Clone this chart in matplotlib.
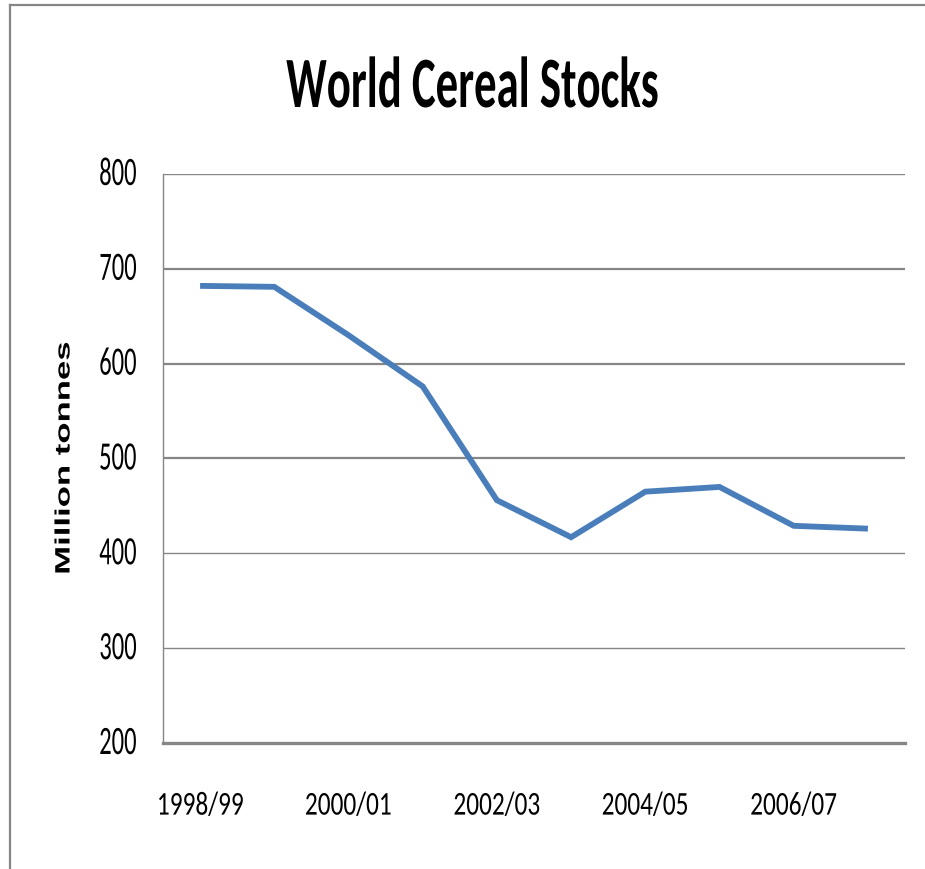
import matplotlib
matplotlib.use("Agg")
import matplotlib.pyplot as plt
from matplotlib.lines import Line2D
from matplotlib.patheffects import AbstractPathEffect
from matplotlib.transforms import Affine2D

# World cereal stocks, million tonnes
seasons = ["1998/99", "1999/00", "2000/01", "2001/02", "2002/03",
           "2003/04", "2004/05", "2005/06", "2006/07", "2007/08"]
stocks = [682, 681, 630, 576, 456, 417, 465, 470, 429, 426]
y_ticks = [200, 300, 400, 500, 600, 700, 800]

LINE_BLUE = "#4a7ebb"
GRID_GREY = "#868686"
CALIBRI = ["Carlito", "DejaVu Sans"]
ARIAL = ["Liberation Sans", "DejaVu Sans"]


class HSqueeze(AbstractPathEffect):
    """Squash glyphs horizontally (the source image was narrowed)."""

    def __init__(self, sx, anchor="center"):
        super().__init__()
        self.sx = sx
        self.anchor = anchor

    def draw_path(self, renderer, gc, tpath, affine, rgbFace=None):
        ext = tpath.get_extents(affine)
        if self.anchor == "right":
            x0 = ext.x1
        elif self.anchor == "left":
            x0 = ext.x0
        else:
            x0 = 0.5 * (ext.x0 + ext.x1)
        squeeze = Affine2D().translate(-x0, 0).scale(self.sx, 1).translate(x0, 0)
        renderer.draw_path(gc, tpath, affine + squeeze, rgbFace)


fig = plt.figure(figsize=(9.25, 8.69), dpi=100)
ax = fig.add_axes([0.1762, 0.145, 0.8022, 0.6548])

x = list(range(len(seasons)))
ax.plot(x, stocks, color=LINE_BLUE, linewidth=4.2, solid_capstyle="butt",
        solid_joinstyle="miter", zorder=3)

ax.set_xlim(-0.5, len(seasons) - 0.5)
ax.set_ylim(200, 800)
ax.set_yticks(y_ticks)
ax.set_yticklabels([str(v) for v in y_ticks], family=CALIBRI, fontsize=29)
ax.set_xticks(x[::2])
ax.set_xticklabels(seasons[::2], family=CALIBRI, fontsize=24)
ax.tick_params(axis="both", length=0)
ax.tick_params(axis="y", pad=19)
ax.tick_params(axis="x", pad=35)
for lab in ax.get_yticklabels():
    lab.set_verticalalignment("center")
    lab.set_path_effects([HSqueeze(0.61, "right")])
for lab in ax.get_xticklabels():
    lab.set_path_effects([HSqueeze(0.76, "center")])

for v in y_ticks[1:]:
    ax.axhline(v, color=GRID_GREY, linewidth=1.0 if v in (300, 400, 800) else 1.6, zorder=1)

for side in ["top", "right"]:
    ax.spines[side].set_visible(False)
ax.spines["left"].set_color(GRID_GREY)
ax.spines["left"].set_linewidth(1.0)
ax.spines["bottom"].set_color(GRID_GREY)
ax.spines["bottom"].set_linewidth(2.4)

fig.text(65 / 925, 1 - 458 / 869, "Million tonnes", rotation=90, ha="center", va="center",
         fontsize=25, fontweight="bold", family=ARIAL,
         path_effects=[HSqueeze(0.6, "center")])

fig.text(473 / 925, 1 - 107 / 869, "World Cereal Stocks", ha="center", va="baseline",
         fontsize=52, fontweight="bold", family=CALIBRI,
         path_effects=[HSqueeze(0.62, "center")])

# outer chart frame (left and top edges visible in the crop)
fig.add_artist(Line2D([0.0105, 0.0105], [0, 0.9945], transform=fig.transFigure,
                      color=GRID_GREY, linewidth=1.6))
fig.add_artist(Line2D([0.0105, 1.0], [0.9945, 0.9945], transform=fig.transFigure,
                      color=GRID_GREY, linewidth=1.6))

fig.savefig("out.png", dpi=100)
